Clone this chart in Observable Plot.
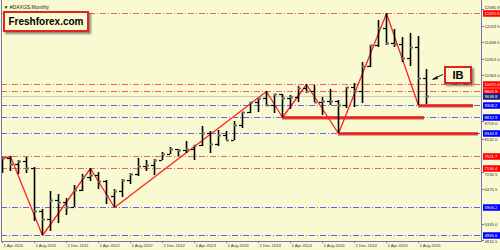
<!DOCTYPE html>
<html><head><meta charset="utf-8">
<script src="https://cdn.jsdelivr.net/npm/d3@7"></script>
<script src="https://cdn.jsdelivr.net/npm/@observablehq/plot@0.6"></script>
<style>
html,body{margin:0;padding:0;background:#FAFAD2;}
#wrap{position:relative;width:500px;height:250px;overflow:hidden;background:#FAFAD2;}
#wrap svg{display:block;}
.box{position:absolute;box-sizing:border-box;border:2px solid #e02424;background:#fbfad0;box-shadow:2px 2px 2px rgba(0,0,0,0.45);
 font-family:"Liberation Sans",Arial,sans-serif;font-weight:bold;color:#000;text-align:center;}
#logo{left:3px;top:11px;width:86px;height:21px;font-size:10px;line-height:17px;}
#ib{left:444px;top:66px;width:28px;height:18px;font-size:11px;line-height:14px;}
#arrow{position:absolute;left:0;top:0;pointer-events:none;}
</style></head>
<body><div id="wrap"></div>
<script>
// Monthly DAX bars, Apr 2011 .. Sep 2015
const months = ["Apr 2011","May 2011","Jun 2011","Jul 2011","Aug 2011","Sep 2011","Oct 2011","Nov 2011","Dec 2011",
 "Jan 2012","Feb 2012","Mar 2012","Apr 2012","May 2012","Jun 2012","Jul 2012","Aug 2012","Sep 2012","Oct 2012","Nov 2012","Dec 2012",
 "Jan 2013","Feb 2013","Mar 2013","Apr 2013","May 2013","Jun 2013","Jul 2013","Aug 2013","Sep 2013","Oct 2013","Nov 2013","Dec 2013",
 "Jan 2014","Feb 2014","Mar 2014","Apr 2014","May 2014","Jun 2014","Jul 2014","Aug 2014","Sep 2014","Oct 2014","Nov 2014","Dec 2014",
 "Jan 2015","Feb 2015","Mar 2015","Apr 2015","May 2015","Jun 2015","Jul 2015","Aug 2015","Sep 2015"];
const open  = [7020,7480,7290,7370,7150,5780,5500,6140,6080, 5890,6460,6860,6950,6760,6260,6420,6770,6970,7220,7260,7400,
 7610,7770,7740,7790,7910,8350,7960,8270,8100,8590,9030,9400, 9550,9300,9690,9550,9600,9940,9830,9400,9470,9470,9320,9980,
 9800,10690,11400,11960,11450,11410,10940,11300,10260];
const high  = [7500,7521.7,7400,7500,7200,5850,6430,6330,6200, 6600,6970,7156.4,7050,6790,6500,6800,7000,7480,7410,7450,7690,
 7870,7800,8060,7940,8560,8400,8450,8410,8700,9040,9410,9560, 9802.9,9700,9700,9660,10000,10071.0,10030,9600,9890,9500,9980,10090,
 10810,11400,12220,12470.5,11920,11640,11800,11700,10560];
const low   = [6990,7060,6960,6990,5430,4965.6,5110,5360,5640, 5900,6420,6760,6480,6000,5904.2,6240,6660,6900,7060,6950,7400,
 7600,7520,7650,7420,7900,7650,7900,8100,8100,8500,9000,9020, 9300,9000,8812.9,9160,9400,9750,9400,8900,9300,8344.8,9200,9220,
 9380,10650,11300,11400,11300,10800,10670,9308.2,9350];
const close = [7480,7290,7370,7150,5780,5500,6140,6080,5890, 6460,6860,6950,6760,6260,6420,6770,6970,7220,7260,7400,7610,
 7770,7740,7790,7910,8350,7960,8270,8100,8590,9030,9400,9550, 9300,9690,9550,9600,9940,9830,9400,9470,9470,9320,9980,9800,
 10690,11400,11960,11450,11410,10940,11300,10260,9638.8];

const tickIdx = [0,4,8,12,16,20,24,28,32,36,40,44,48,52];
const tickLabels = ["1 Apr 2011","1 Aug 2011","1 Dec 2011","1 Apr 2012","1 Aug 2012","1 Dec 2012","1 Apr 2013",
 "1 Aug 2013","1 Dec 2013","1 Apr 2014","1 Aug 2014","1 Dec 2014","1 Apr 2015","1 Aug 2015"];
const axisValues = [12580.9,12019.5,11468.5,10914.0,10363.0,8703.0,8142.0,7036.5,6475.5,5335.0,4816.5];
const redLevels  = [12470.5,10071.0,9802.9,7521.7,7156.4];
const blueLevels = [9308.2,8812.9,8344.8,5904.2,4965.6];
const bidLevel = [9638.8];
const zigzagIdx = [-1,1,5,11,14,33,35,38,42,48,52];
const zigzagVal = [7420,7521.7,4965.6,7156.4,5904.2,9802.9,8812.9,10071.0,8344.8,12470.5,9308.2];
const supportVal  = [8812.9,9308.2,8344.8];
const supportFrom = [35,52,42];
const supportTo   = [52.75,58.9,59.5];

// price-scale calibration knots
const yKnots  = [4816.5,4965.6,5904.2,7156.4,7521.7,8344.8,8812.9,9308.2,10071.0,12470.5,12580.9];
const yPixels = [239.8,235.3,207,168.3,156.3,133.3,117.3,105,84,12.7,9.4];

const bars = months.map((m,i)=>({i, o:open[i], h:high[i], l:low[i], c:close[i]}));
const zz = zigzagIdx.map((x,k)=>({x, y:zigzagVal[k]}));
const sup = supportVal.map((v,k)=>({v, a:supportFrom[k], b:supportTo[k]}));
const fmt = d3.format(".1f");
const FONT = "Liberation Sans, Arial, sans-serif";
const frameColor = "#7474b2";
const LF = 4.2;
const yOpts = {type:"linear", domain:yKnots, range:yPixels, axis:null, round:true};

// keep plain price labels clear of the coloured level labels
const ys = Plot.scale({y:{type:"linear", domain:yKnots, range:yPixels}});
const boxed = [...redLevels, ...blueLevels, ...bidLevel].map(v=>ys.apply(v));
const gap = 5.6;
const labelShift = v => {
  const p = ys.apply(v);
  let s = 0;
  for (const b of boxed) { const d = p - b; if (Math.abs(d) < gap) s = (d >= 0 ? 1 : -1) * (gap - Math.abs(d)); }
  return s;
};

const chart = Plot.plot({
  width:500, height:250, marginTop:0, marginBottom:9, marginLeft:1, marginRight:19,
  style:{background:"transparent", overflow:"visible", fontFamily:FONT},
  x:{type:"linear", domain:[0,59.875], range:[2,481], axis:null, round:true},
  y:yOpts,
  marks:[
    Plot.ruleY(bidLevel, {stroke:"#c8c8c8", strokeWidth:1}),
    Plot.ruleY(redLevels, {stroke:"#f45e5e", strokeWidth:1, strokeDasharray:"6,2,1,2"}),
    Plot.ruleY(blueLevels, {stroke:"#6262ee", strokeWidth:1, strokeDasharray:"6,2,1,2"}),
    Plot.ruleY(sup, {y:"v", x1:"a", x2:"b", stroke:"#8a1010", strokeWidth:3, dy:0.8, strokeOpacity:0.45, clip:true}),
    Plot.ruleY(sup, {y:"v", x1:"a", x2:"b", stroke:"#ee1c1c", strokeWidth:2.5, clip:true}),
    Plot.line(zz, {x:"x", y:"y", stroke:"#ff2020", strokeWidth:1.3, clip:true}),
    Plot.ruleX(bars, {x:"i", y1:"l", y2:"h", stroke:"#000", strokeWidth:1.6, clip:true}),
    Plot.ruleY(bars, {y:"o", x1:d=>d.i-0.42, x2:"i", stroke:"#000", strokeWidth:1.2, clip:true}),
    Plot.ruleY(bars, {y:"c", x1:"i", x2:d=>d.i+0.38, stroke:"#6e6e6e", strokeWidth:2, clip:true}),
    Plot.frame({anchor:"left", stroke:frameColor}),
    Plot.frame({anchor:"right", stroke:frameColor}),
    Plot.frame({anchor:"bottom", stroke:frameColor}),
    // x ticks and labels
    Plot.ruleX(tickIdx, {x:d=>d, y1:4775, y2:4700, stroke:frameColor}),
    Plot.text(tickIdx, {x:d=>d, frameAnchor:"bottom", dy:5, dx:1, text:(d,k)=>tickLabels[k], textAnchor:"start", fontSize:LF, fill:"#333"}),
    // right axis ticks and labels
    Plot.ruleY(axisValues, {y:d=>d, x1:59.875, x2:60.25, stroke:frameColor}),
    ...axisValues.map(v => Plot.text([v], {y:d=>d, x:60.3, dy:labelShift(v), text:d=>fmt(d), textAnchor:"start", fontSize:LF, fill:"#333"})),
    Plot.ruleY(redLevels, {y:d=>d, x1:60.1, x2:62.5, stroke:"#ff0000", strokeWidth:6.5}),
    Plot.text(redLevels, {y:d=>d, x:60.3, text:d=>fmt(d), textAnchor:"start", fontSize:LF, fill:"#fff"}),
    Plot.ruleY(blueLevels, {y:d=>d, x1:60.1, x2:62.5, stroke:"#0000ff", strokeWidth:6.5}),
    Plot.text(blueLevels, {y:d=>d, x:60.3, text:d=>fmt(d), textAnchor:"start", fontSize:LF, fill:"#fff"}),
    Plot.ruleY(bidLevel, {y:d=>d, x1:60.1, x2:62.5, stroke:"#1d1d78", strokeWidth:6.5}),
    Plot.text(bidLevel, {y:d=>d, x:60.3, text:d=>fmt(d), textAnchor:"start", fontSize:LF, fill:"#fff"}),
    // title
    Plot.text(["\u25BC #DAXGS,Monthly"], {frameAnchor:"top-left", dx:2, dy:5, textAnchor:"start", fontSize:5, fill:"#222"})
  ]
});
const wrap = document.getElementById("wrap");
wrap.appendChild(chart);
const logo = document.createElement("div"); logo.className="box"; logo.id="logo"; logo.textContent="Freshforex.com"; wrap.appendChild(logo);
const ib = document.createElement("div"); ib.className="box"; ib.id="ib"; ib.textContent="IB"; wrap.appendChild(ib);
const ns="http://www.w3.org/2000/svg";
const a = document.createElementNS(ns,"svg"); a.setAttribute("id","arrow"); a.setAttribute("width","500"); a.setAttribute("height","250");
a.innerHTML = '<line x1="443" y1="74.5" x2="433" y2="79" stroke="#111" stroke-width="1"/><path d="M431.5,80 L437,76 L438,79 Z" fill="#111"/>';
wrap.appendChild(a);
</script>
</body></html>
